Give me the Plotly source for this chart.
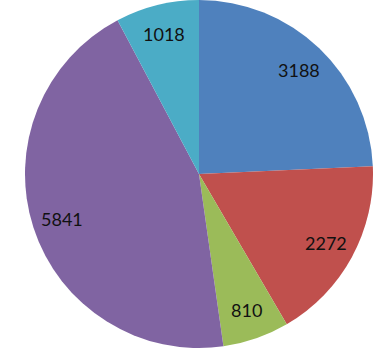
import math
import plotly.graph_objects as go

labels = ["A", "B", "C", "D", "E"]
values = [3188, 2272, 810, 5841, 1018]
colors = ["#4F81BD", "#C0504D", "#9BBB59", "#8064A2", "#4BACC6"]

W, H = 376, 357
x0, x1 = 25, 373      # pie horizontal extent in px
y0, y1 = 0, 348       # pie vertical extent in px (from top)
cx, cy = (x0 + x1) / 2, (y0 + y1) / 2
R = (x1 - x0) / 2
LABEL_R = 0.83

fig = go.Figure(go.Pie(
    labels=labels,
    values=values,
    sort=False,
    direction="clockwise",
    rotation=0,
    marker=dict(colors=colors, line=dict(width=0)),
    textinfo="none",
    domain=dict(x=[x0 / W, x1 / W], y=[(H - y1) / H, 1 - y0 / H]),
    showlegend=False,
    hoverinfo="label+value",
))

total = sum(values)
cum = 0
annotations = []
for v in values:
    mid = (cum + v / 2) / total * 2 * math.pi
    cum += v
    px = cx + LABEL_R * R * math.sin(mid)
    py = cy - LABEL_R * R * math.cos(mid)
    annotations.append(dict(
        x=px / W, y=1 - py / H, xref="paper", yref="paper",
        text=str(v), showarrow=False,
        font=dict(family="Lato, Open Sans, sans-serif", size=18, color="#111111"),
        xanchor="center", yanchor="middle",
    ))

fig.update_layout(
    width=W, height=H,
    margin=dict(l=0, r=0, t=0, b=0),
    paper_bgcolor="white",
    plot_bgcolor="white",
    annotations=annotations,
)
fig.write_html("out.html", config={"displayModeBar": False},
               post_script="document.body.style.margin='0';")
